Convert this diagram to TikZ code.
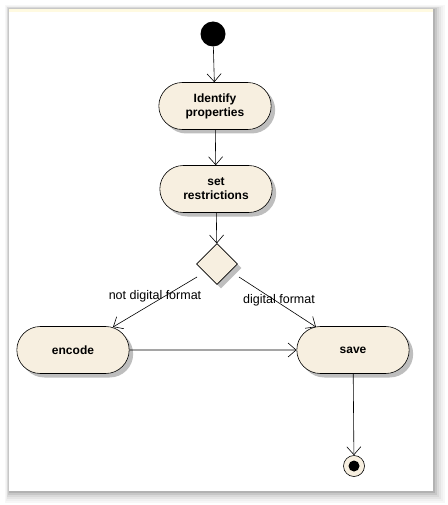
\documentclass[tikz,border=0pt]{standalone}
\usepackage{fontspec}
\setmainfont{Liberation Sans}
\usetikzlibrary{arrows.meta,shapes.geometric,shapes.misc,calc}
\definecolor{nodefill}{RGB}{247,239,224}
\definecolor{shade}{RGB}{190,190,190}
\definecolor{topline}{RGB}{255,250,225}
\tikzset{
  x=1pt,y=-1pt,
  act/.style={draw=black,line width=0.6pt,fill=nodefill,rounded rectangle,minimum width=119pt,minimum height=47pt,align=center,font=\fontsize{12}{14}\selectfont\bfseries},
  actshadow/.style={fill=shade,rounded rectangle,minimum width=119pt,minimum height=47pt,draw=none},
  dec/.style={draw=black,line width=0.6pt,fill=nodefill,diamond,minimum width=41pt,minimum height=41pt,inner sep=0pt},
  flow/.style={draw=black,line width=0.6pt,-{Straight Barb[length=8pt,width=14pt,line width=0.6pt]}},
  lbl/.style={font=\fontsize{12.5}{14}\selectfont,inner sep=1pt}
}
\begin{document}
\begin{tikzpicture}
\useasboundingbox (0,0) rectangle (447,505);
% window frame with soft shadow
\fill[white] (0,0) rectangle (447,505);
\foreach \i/\c in {10/3,8/6,6/10,4/15,2/22,0/30}{
  \fill[black!\c!white] (9-\i*0.4,9-\i*0.4) rectangle (433+2+\i,491+2+\i);
}
\fill[white] (9,9) rectangle (433,491);
\fill[topline] (9,9) rectangle (433,12);
% start node
\node[circle,fill=black,minimum size=25pt,inner sep=0pt] (start) at (213,34) {};
% shadows
\node[actshadow] at (219,110) {};
\node[actshadow] at (220,193) {};
\node[actshadow] at (77,354) {};
\node[actshadow] at (357,354) {};
\node[diamond,fill=shade,minimum width=41pt,minimum height=41pt,inner sep=0pt] at (221,268) {};
% activities
\node[act] (ident) at (215,106) {Identify\\properties};
\node[act] (restr) at (216,189) {set\\restrictions};
\node[dec] (dec) at (217,264) {};
\node[act] (enc) at (73,350) {encode};
\node[act] (save) at (353,350) {save};
% final node
\node[circle,draw=black,line width=0.6pt,fill=nodefill,minimum size=21pt,inner sep=0pt] (final) at (354,466) {};
\node[circle,fill=black,minimum size=11pt,inner sep=0pt] (finaldot) at (354,466) {};
% flows
\draw[flow] (start) -- (ident);
\draw[flow] (ident) -- (restr);
\draw[flow] (restr) -- (dec);
\coordinate (dl) at (197,277);
\coordinate (dr) at (239,277);
\draw[flow] (dl) -- (113,327) coordinate (el);
\draw[flow] (dr) -- (316,327) coordinate (sl);
\draw[flow] (enc) -- (save);
\draw[flow] (save) -- (final);
% labels
\node[lbl] (l1) at (155,296) {not digital format};
\node[lbl] (l2) at (279,300) {digital format};
\end{tikzpicture}
\end{document}
